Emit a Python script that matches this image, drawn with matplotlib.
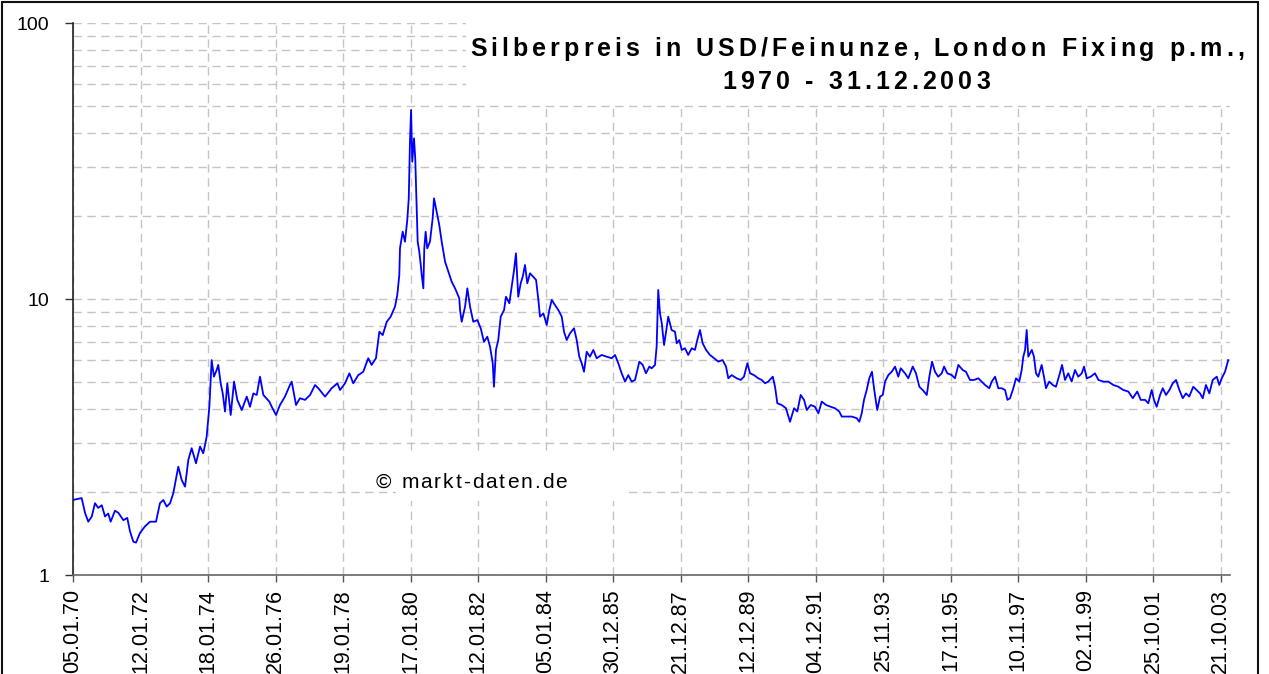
import matplotlib
matplotlib.use("Agg")
import matplotlib.pyplot as plt
from matplotlib.patches import Rectangle
from matplotlib.font_manager import FontProperties
from matplotlib.ticker import FixedLocator, NullFormatter, NullLocator

# ---------------- data (trading-day index from 05.01.1970, USD per oz) ----------------
day = [0, 64, 89, 113, 139, 163, 187, 213, 237, 261, 279, 311, 336, 373, 402, 422, 447, 467, 496, 533,
       570, 615, 644, 669, 694, 719, 743, 780, 805, 830, 854, 879, 911, 941, 965, 990, 1010, 1027, 1044, 1064,
       1076, 1094, 1109, 1126, 1143, 1168, 1193, 1217, 1250, 1287, 1311, 1336, 1361, 1385, 1410, 1454, 1472, 1504, 1533, 1570,
       1607, 1620, 1652, 1681, 1719, 1756, 1793, 1817, 1867, 1916, 1958, 1978, 2015, 2047, 2076, 2113, 2150, 2187, 2212, 2244,
       2269, 2294, 2324, 2353, 2385, 2402, 2417, 2422, 2442, 2459, 2476, 2487, 2496, 2504, 2513, 2526, 2535, 2546, 2553, 2565,
       2576, 2583, 2595, 2602, 2612, 2624, 2644, 2664, 2674, 2694, 2713, 2731, 2756, 2780, 2805, 2830, 2861, 2867, 2879, 2904,
       2921, 2941, 2965, 2995, 3020, 3044, 3069, 3089, 3109, 3118, 3133, 3150, 3168, 3193, 3207, 3232, 3249, 3267, 3281, 3298,
       3316, 3331, 3348, 3365, 3385, 3409, 3430, 3447, 3459, 3484, 3509, 3528, 3546, 3570, 3595, 3620, 3637, 3657, 3681, 3711,
       3731, 3750, 3768, 3785, 3805, 3829, 3854, 3879, 3916, 3953, 3990, 4015, 4039, 4064, 4089, 4113, 4138, 4163, 4195, 4220,
       4244, 4269, 4286, 4311, 4323, 4335, 4348, 4361, 4378, 4393, 4409, 4434, 4459, 4472, 4491, 4509, 4533, 4557, 4583, 4607,
       4624, 4644, 4664, 4689, 4718, 4748, 4780, 4812, 4837, 4854, 4879, 4916, 4946, 4970, 4995, 5015, 5044, 5076, 5101, 5126,
       5150, 5183, 5200, 5217, 5249, 5281, 5311, 5341, 5365, 5390, 5415, 5435, 5464, 5496, 5521, 5546, 5578, 5612, 5644, 5676,
       5694, 5731, 5768, 5805, 5824, 5842, 5859, 5879, 5898, 5918, 5935, 5957, 5978, 5998, 6015, 6039, 6064, 6089, 6113, 6131,
       6163, 6187, 6220, 6244, 6269, 6294, 6324, 6343, 6363, 6385, 6409, 6435, 6452, 6476, 6509, 6533, 6558, 6590, 6614, 6644,
       6674, 6706, 6731, 6756, 6787, 6805, 6830, 6854, 6879, 6904, 6921, 6941, 6965, 6985, 7009, 7027, 7039, 7052, 7064, 7076,
       7102, 7118, 7133, 7150, 7175, 7192, 7207, 7231, 7257, 7281, 7306, 7326, 7348, 7372, 7397, 7422, 7446, 7472, 7489, 7509,
       7538, 7570, 7595, 7632, 7669, 7706, 7743, 7780, 7817, 7850, 7883, 7909, 7941, 7965, 7990, 8007, 8027, 8052, 8072, 8096,
       8121, 8146, 8170, 8195, 8220, 8244, 8268, 8298, 8323, 8348, 8368, 8392, 8417, 8442, 8472, 8491, 8509, 8533, 8557]

price = [1.87, 1.90, 1.68, 1.56, 1.63, 1.82, 1.75, 1.79, 1.63, 1.67, 1.56, 1.71, 1.68, 1.58, 1.61, 1.44, 1.32, 1.31, 1.42, 1.50,
         1.56, 1.56, 1.82, 1.87, 1.77, 1.82, 1.98, 2.47, 2.21, 2.09, 2.61, 2.88, 2.54, 2.92, 2.76, 3.17, 4.07, 6.01, 5.23, 5.53,
         5.77, 4.95, 4.55, 3.91, 4.95, 3.80, 5.02, 4.31, 3.96, 4.43, 4.07, 4.55, 4.49, 5.23, 4.49, 4.25, 4.07, 3.80, 4.13, 4.43,
         4.88, 5.02, 4.13, 4.37, 4.31, 4.49, 4.88, 4.75, 4.43, 4.75, 4.95, 4.68, 4.95, 5.38, 4.95, 5.30, 5.45, 6.10, 5.77, 6.10,
         7.61, 7.40, 8.27, 8.63, 9.38, 10.34, 12.22, 15.26, 17.53, 16.13, 19.33, 23.16, 37.15, 48.4, 31.43, 38.2, 32.3, 20.71, 16.13, 14.84,
         13.28, 12.22, 10.93, 15.26, 17.53, 15.26, 16.13, 19.6, 23.16, 20.71, 18.54, 16.13, 13.65, 12.56, 11.55, 10.93, 10.06, 9.12, 8.27, 9.38,
         10.93, 9.38, 8.27, 8.39, 7.83, 7.00, 7.30, 6.72, 5.85, 4.81, 6.54, 7.10, 8.63, 9.12, 10.19, 9.65, 11.08, 12.74, 14.64, 10.19,
         11.40, 12.04, 13.28, 11.40, 12.39, 12.04, 11.72, 9.92, 8.63, 8.87, 8.05, 9.12, 9.92, 9.51, 9.12, 8.63, 7.61, 7.10, 7.51, 7.83,
         7.10, 6.18, 5.85, 5.45, 6.44, 6.18, 6.54, 6.10, 6.27, 6.18, 6.10, 6.27, 5.85, 5.38, 5.02, 5.30, 5.02, 5.09, 5.93, 5.77,
         5.38, 5.69, 5.61, 5.77, 6.72, 10.78, 8.87, 8.17, 6.81, 7.61, 8.63, 7.72, 7.61, 6.91, 7.10, 6.54, 6.63, 6.27, 6.63, 6.54,
         7.10, 7.72, 6.91, 6.54, 6.27, 6.10, 5.93, 6.01, 5.69, 5.16, 5.30, 5.16, 5.09, 5.23, 5.85, 5.38, 5.30, 5.16, 5.09, 4.95,
         5.02, 5.23, 4.81, 4.19, 4.13, 4.02, 3.59, 4.02, 3.91, 4.49, 4.31, 3.96, 4.13, 4.07, 3.85, 4.25, 4.13, 4.07, 4.02, 3.91,
         3.75, 3.75, 3.75, 3.70, 3.59, 3.85, 4.31, 4.68, 5.16, 5.45, 4.68, 3.96, 4.43, 4.49, 5.02, 5.30, 5.45, 5.69, 5.23, 5.61,
         5.38, 5.16, 5.69, 5.38, 4.81, 4.68, 4.49, 5.23, 5.93, 5.45, 5.23, 5.38, 5.69, 5.38, 5.30, 5.16, 5.77, 5.53, 5.45, 5.09,
         5.09, 5.16, 5.02, 4.88, 4.75, 5.02, 5.23, 4.75, 4.75, 4.68, 4.31, 4.37, 4.75, 5.16, 5.02, 5.53, 6.18, 6.54, 7.72, 6.18,
         6.54, 6.18, 5.38, 5.23, 5.77, 5.23, 4.75, 5.02, 4.88, 4.81, 5.30, 5.77, 5.09, 5.38, 5.02, 5.53, 5.23, 5.38, 5.69, 5.16,
         5.23, 5.38, 5.09, 5.02, 5.02, 4.88, 4.81, 4.68, 4.62, 4.37, 4.62, 4.31, 4.31, 4.19, 4.68, 4.31, 4.07, 4.49, 4.75, 4.49,
         4.68, 4.95, 5.09, 4.68, 4.37, 4.55, 4.43, 4.81, 4.68, 4.55, 4.37, 4.88, 4.55, 5.09, 5.23, 4.88, 5.16, 5.45, 6.01]

tick_days = [0, 500, 1000, 1500, 2000, 2500, 3000, 3500, 4000, 4500, 5000, 5500, 6000, 6500, 7000, 7500, 8000, 8500]
tick_labels = ["05.01.70", "12.01.72", "18.01.74", "26.01.76", "19.01.78", "17.01.80", "12.01.82", "05.01.84",
               "30.12.85", "21.12.87", "12.12.89", "04.12.91", "25.11.93", "17.11.95", "10.11.97", "02.11.99",
               "25.10.01", "21.10.03"]
y_ticks = [1, 10, 100]
y_tick_labels = ["1", "10", "100"]
y_minor = [2, 3, 4, 5, 6, 7, 8, 9, 20, 30, 40, 50, 60, 70, 80, 90]
title_lines = ["Silberpreis in USD/Feinunze, London Fixing p.m.,", "1970 - 31.12.2003"]
watermark = "© markt-daten.de"

# ---------------- figure ----------------
W, H, DPI = 1269, 674, 100
plt.rcParams['font.family'] = ['Liberation Sans', 'DejaVu Sans']
fig = plt.figure(figsize=(W / DPI, H / DPI), dpi=DPI, facecolor='white')


def fx(px):
    return px / W


def fy(py):
    return 1 - py / H


ax = fig.add_axes([fx(73), fy(575), fx(1230) - fx(73), fy(23) - fy(575)])
ax.set_yscale('log')
ax.set_ylim(1, 100)
ax.set_xlim(0, 8570)

grid_kw = dict(color='#c4c4c4', linewidth=1.0, dashes=(6, 4))
ax.yaxis.set_major_locator(FixedLocator(y_ticks))
ax.yaxis.set_minor_locator(FixedLocator(y_minor))
ax.yaxis.set_minor_formatter(NullFormatter())
ax.set_yticklabels(y_tick_labels)
ax.set_xticks(tick_days)
ax.set_xticklabels(tick_labels, rotation=90)
ax.xaxis.set_minor_locator(NullLocator())
ax.grid(True, which='both', axis='y', **grid_kw)
ax.grid(True, which='major', axis='x', **grid_kw)
ax.set_axisbelow(True)

ax.tick_params(axis='y', which='major', length=6, width=1, color='#333333', pad=11, labelsize=14)
ax.tick_params(axis='y', which='minor', length=0)
ax.tick_params(axis='x', which='major', length=5, width=1, color='#555555', pad=5, labelsize=15.5)

for s in ['top', 'right']:
    ax.spines[s].set_visible(False)
ax.spines['left'].set_color('#222222')
ax.spines['bottom'].set_color('#666666')
ax.spines['left'].set_linewidth(1.2)
ax.spines['bottom'].set_linewidth(1.2)

ax.plot(day, price, color='#0000ff', linewidth=1.3, zorder=3)

# white boxes behind title and watermark
ax.add_patch(Rectangle((fx(466), fy(104)), fx(1269) - fx(466), fy(0) - fy(104),
                       transform=fig.transFigure, facecolor='white', edgecolor='none',
                       clip_on=False, zorder=5))
ax.add_patch(Rectangle((fx(396), fy(501)), fx(624) - fx(396), fy(456) - fy(501),
                       transform=fig.transFigure, facecolor='white', edgecolor='none',
                       clip_on=False, zorder=5))

# figure frame
fig.add_artist(Rectangle((fx(1.5), fy(700)), fx(1258) - fx(1.5), fy(1.5) - fy(700),
                         transform=fig.transFigure, facecolor='none', edgecolor='#111111',
                         linewidth=1.5, clip_on=False, zorder=10))

fig.canvas.draw()
renderer = fig.canvas.get_renderer()


def advances(text, fp):
    w0, _, _ = renderer.get_text_width_height_descent('xx', fp, ismath=False)
    out = []
    for c in text:
        w1, _, _ = renderer.get_text_width_height_descent('x' + c + 'x', fp, ismath=False)
        out.append(w1 - w0)
    return out


def spaced_text(x_left, x_right, baseline, text, fp, color='black'):
    adv = advances(text, fp)
    track = ((x_right - x_left) - sum(adv)) / max(len(text) - 1, 1)
    x = x_left
    for c, a in zip(text, adv):
        fig.text(fx(x), fy(baseline), c, fontproperties=fp, ha='left', va='baseline',
                 color=color, zorder=11)
        x += a + track


fp_title = FontProperties(family=['Liberation Sans', 'DejaVu Sans'], weight='bold', size=18)
spaced_text(470, 1244, 56, title_lines[0], fp_title)
spaced_text(722, 990, 89, title_lines[1], fp_title)

fp_wm = FontProperties(family=['Liberation Sans', 'DejaVu Sans'], size=15)
spaced_text(376, 567, 488, watermark, fp_wm)

fig.savefig('out.png', dpi=DPI, facecolor='white')
